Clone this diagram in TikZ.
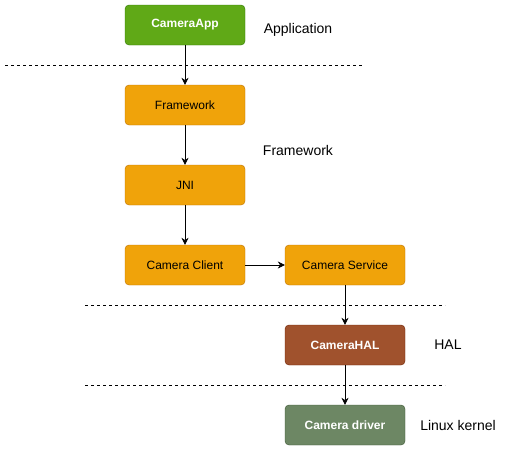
\documentclass[tikz,border=0pt]{standalone}
\usepackage{fontspec}
\setmainfont{Liberation Sans}
\usetikzlibrary{arrows.meta}
\definecolor{appgreen}{HTML}{60A917}
\definecolor{appgreenline}{HTML}{2D7600}
\definecolor{fworange}{HTML}{F0A30A}
\definecolor{fworangeline}{HTML}{BD7000}
\definecolor{halbrown}{HTML}{A0522D}
\definecolor{halbrownline}{HTML}{6D1F00}
\definecolor{drvgreen}{HTML}{6D8764}
\definecolor{drvgreenline}{HTML}{3A5431}
\begin{document}
\begin{tikzpicture}[x=1pt,y=-1pt,
  box/.style={draw,rounded corners=4pt,align=center,minimum width=120pt,
    minimum height=40pt,inner sep=0pt,font=\fontsize{12}{14}\selectfont},
  layer/.style={font=\fontsize{14}{16}\selectfont,inner sep=0pt},
  edge/.style={-{Stealth[length=7pt,width=7pt]},semithick},
  sep/.style={dash pattern=on 3pt off 3pt,thin}
]
  \useasboundingbox (0,0) rectangle (507,451);
  \node[box,fill=appgreen,draw=appgreenline,text=white,font=\fontsize{12}{14}\selectfont\bfseries] (app) at (185,25) {CameraApp};
  \node[box,fill=fworange,draw=fworangeline] (fw) at (185,105) {Framework};
  \node[box,fill=fworange,draw=fworangeline] (jni) at (185,185) {JNI};
  \node[box,fill=fworange,draw=fworangeline] (client) at (185,265) {Camera Client};
  \node[box,fill=fworange,draw=fworangeline] (service) at (345,265) {Camera Service};
  \node[box,fill=halbrown,draw=halbrownline,text=white,font=\fontsize{12}{14}\selectfont\bfseries] (hal) at (345,345) {CameraHAL};
  \node[box,fill=drvgreen,draw=drvgreenline,text=white,font=\fontsize{12}{14}\selectfont\bfseries] (drv) at (345,425) {Camera driver};

  \node[layer] (lapp) at (298,30) {Application};
  \node[layer] (lfw) at (298,150) {Framework};
  \node[layer] (lhal) at (448,345) {HAL};
  \node[layer] (lkern) at (458,425) {Linux kernel};

  \draw[sep] (5,65) -- (362,65);
  \draw[sep] (85,305) -- (445,305);
  \draw[sep] (85,385) -- (445,385);

  \draw[edge] (app) -- (fw);
  \draw[edge] (fw) -- (jni);
  \draw[edge] (jni) -- (client);
  \draw[edge] (client) -- (service);
  \draw[edge] (service) -- (hal);
  \draw[edge] (hal) -- (drv);
\end{tikzpicture}
\end{document}
